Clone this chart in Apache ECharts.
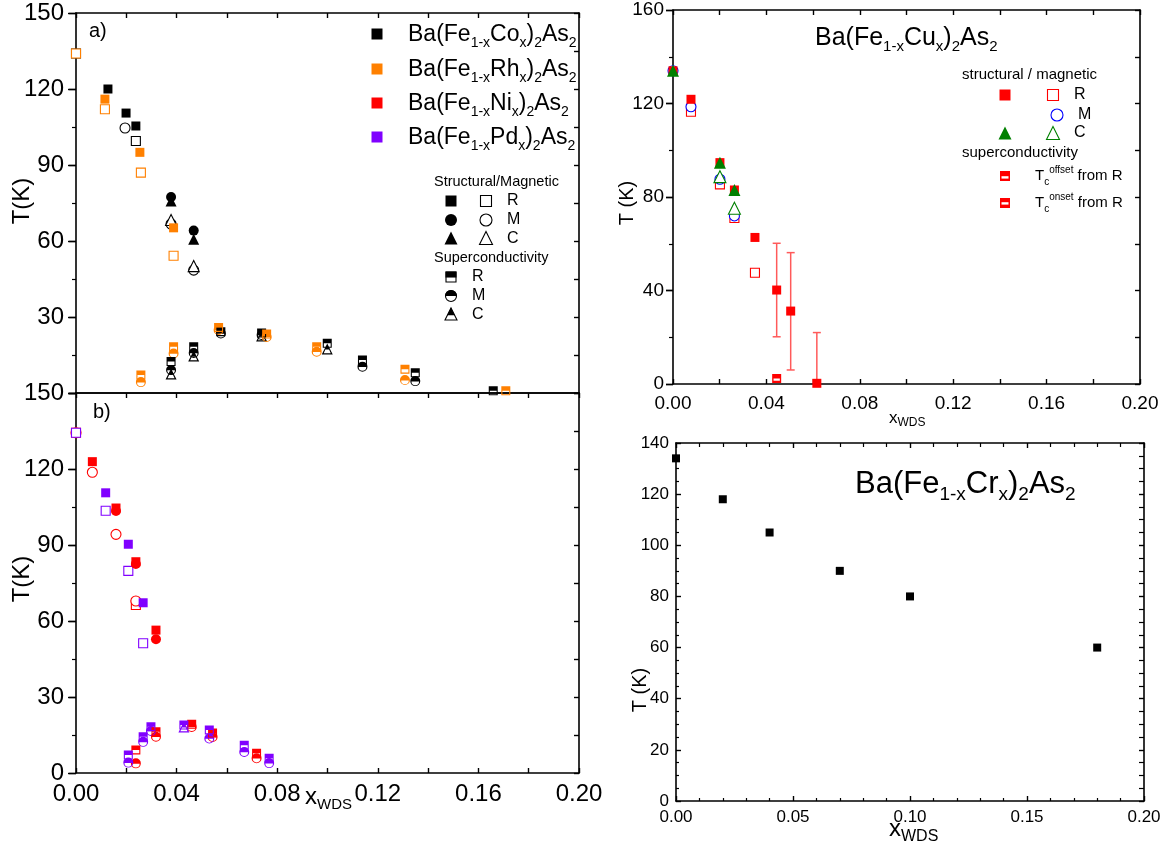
<!DOCTYPE html>
<html><head><meta charset="utf-8">
<script src="https://cdn.jsdelivr.net/npm/echarts@6/dist/echarts.min.js"></script>
<style>html,body{margin:0;padding:0;background:#fff}#c{width:1170px;height:856px}</style>
</head><body><div id="c"></div><script>
// ---------------- DATA ----------------
// Panel a) Ba(Fe1-xCox)2As2 (black), Ba(Fe1-xRhx)2As2 (orange)  [x_WDS, T(K)]
const coStructR      = [[0.0127,120],[0.0199,110.5],[0.0238,105.4]];
const coStructRopen  = [[0,134],[0.0238,99.5]];
const coMagM         = [[0.0378,77.4],[0.0468,64.1]];
const coMagMopen     = [[0.0195,104.6],[0.0378,66.7],[0.0468,48.5]];
const coC            = [[0.0378,75.8],[0.0468,60.7]];
const coCopen        = [[0.0378,68.3],[0.0468,50.1]];
const coScR          = [[0.0378,12.4],[0.0468,18.3],[0.0576,24.2],[0.0738,23.7],[0.0999,19.6],[0.1139,13],[0.1349,8],[0.1659,0.9]];
const coScM          = [[0.0378,9.1],[0.0468,15.8],[0.0576,23.5],[0.0738,22.9],[0.1139,10.4],[0.1349,4.7]];
const coScC          = [[0.0378,7.5],[0.0468,14.6],[0.0738,22.5],[0.0999,17.4]];
const rhStructR      = [[0.0115,116],[0.0254,95],[0.0388,65.2]];
const rhStructRopen  = [[0,134],[0.0115,112],[0.0258,87],[0.0388,54.2]];
const rhScR          = [[0.0258,7.1],[0.0388,18.3],[0.0567,25.9],[0.0758,23.3],[0.0957,18.3],[0.1308,9.4],[0.1709,0.9]];
const rhScM          = [[0.0258,4.3],[0.0388,15.6],[0.0567,24.9],[0.0758,22.1],[0.0957,16.3],[0.1308,5.1]];
// Panel b) Ba(Fe1-xNix)2As2 (red), Ba(Fe1-xPdx)2As2 (purple)
const niStructR      = [[0.0065,122.9],[0.0159,104.6],[0.0238,83.4],[0.0318,56.4]];
const niMagM         = [[0.0159,103.4],[0.0238,82.5],[0.0318,52.8]];
const niStructRopen  = [[0,134.3],[0.0238,66.3]];
const niMagMopen     = [[0,134.3],[0.0065,118.7],[0.0159,94.2],[0.0238,67.9]];
const niScR          = [[0.0238,9.1],[0.0318,16.3],[0.046,19.2],[0.0543,15.8],[0.0718,7.8]];
const niScM          = [[0.0238,3.8],[0.0318,14.3],[0.046,18.2],[0.0543,14.2],[0.0718,5.8]];
const pdStructR      = [[0.0118,110.6],[0.0208,90.3],[0.0267,67.2]];
const pdStructRopen  = [[0,134.3],[0.0118,103.5],[0.0208,79.8],[0.0267,51.2]];
const pdScR          = [[0.0208,7.1],[0.0267,14.3],[0.0298,18.3],[0.0429,18.9],[0.053,17],[0.0669,11],[0.0768,5.8]];
const pdScM          = [[0.0208,4.1],[0.0267,12.3],[0.0298,16.6],[0.053,13.6],[0.0669,8.3],[0.0768,3.9]];
const pdScC          = [[0.0429,18.2]];
// Ba(Fe1-xCux)2As2
const cuStructR      = [[0,134],[0.0077,121.8],[0.0201,94.7],[0.0263,83],[0.0351,62.7],[0.0444,40.2],[0.0504,31.2],[0.0616,0.3]];
const cuStructErr    = [[0.0444,20.2,60.2],[0.0504,6,56.2],[0.0616,-21.5,22]]; // [x, low, high]
const cuStructRopen  = [[0.0077,116.5],[0.0201,85.4],[0.0263,71],[0.0351,47.6]];
const cuMagMopen     = [[0,134],[0.0077,118.6],[0.0201,87.6],[0.0263,71.9]];
const cuCfilled      = [[0,134],[0.0201,94.7],[0.0263,83]];
const cuCopen        = [[0.0201,88.7],[0.0263,75.2]];
const cuTcOffset     = [[0.0444,2.4]];
// Ba(Fe1-xCrx)2As2
const crX = [0, 0.02, 0.04, 0.07, 0.10, 0.18];
const crT = [134, 118, 105, 90, 80, 60];
// tick settings
const xTicksAB = [0, 0.2, 0.02];
const yTicksAB = [0, 150, 30];
const yTicksCu = [0, 160, 40];
const yTicksCr = [0, 140, 20];

// ---------------- STYLE ----------------
const FONT = '"Liberation Sans", Arial, Helvetica, sans-serif';
const BLACK='#000000', ORANGE='#ff8000', RED='#ff0000', PURPLE='#8000ff', BLUE='#0000ff', GREEN='#008000', ERR='#ff5a5a';
const SQ_HALF_D = 'M0,0L10,0L10,10L0,10Z M1.2,5L1.2,8.8L8.8,8.8L8.8,5Z';
const CI_HALF_D = 'M0,5A5,5,0,1,1,10,5A5,5,0,1,1,0,5Z M1.2,5.3A3.8,3.8,0,0,0,8.8,5.3Z';
const TR_HALF_D = 'M5,0L10,10L0,10Z M3.3,5.6L1.8,8.9L8.2,8.9L6.7,5.6Z';
const SQ_OFF_D  = 'M0,0L10,0L10,10L0,10Z M1.5,5.2L1.5,7.6L8.5,7.6L8.5,5.2Z';
const SQH = 'path://'+SQ_HALF_D, CIH = 'path://'+CI_HALF_D, TRH = 'path://'+TR_HALF_D;

const AX = {a:[0,0], b:[2,2], cu:[4,4], cr:[6,6]};
function S(panel, data, symbol, color, size, open, z) {
  const [xi, yi] = AX[panel];
  return {type:'scatter', xAxisIndex:xi, yAxisIndex:yi, data, symbol, symbolSize:size, z: z||2,
    itemStyle: open ? {color:'#ffffff', borderColor:color, borderWidth:1.1, opacity:1}
                    : {color:color, borderWidth:0, opacity:1},
    emphasis:{disabled:true}, silent:true, animation:false};
}
const stepFmt = (step, dec) => v => (Math.abs(Math.round(v/step) - v/step) < 1e-6) ? v.toFixed(dec) : '';
const AL = {color:'#000', width:1.6};
function xa(grid, o) {
  return Object.assign({type:'value', gridIndex:grid, splitLine:{show:false},
    axisLine:{show:true, onZero:false, lineStyle:AL}}, o);
}
function ya(grid, o) {
  return Object.assign({type:'value', gridIndex:grid, splitLine:{show:false},
    axisLine:{show:true, onZero:false, lineStyle:AL}}, o);
}
const off = {show:false};
const lab = (size, margin, fmt) => ({show:true, fontSize:size, margin, color:'#000', fontFamily:FONT, formatter:fmt, showMinLabel:true, showMaxLabel:true});
const tin = (len) => ({show:true, inside:true, length:len, lineStyle:{color:'#000', width:1.4}});
const tout = (len) => ({show:true, inside:false, length:len, lineStyle:{color:'#000', width:1.4}});
const minor = (n, len) => ({show:true, splitNumber:n, length:len, lineStyle:{color:'#000', width:1.2}});

const xAxis = [
  xa(0,{min:xTicksAB[0],max:xTicksAB[1],interval:xTicksAB[2], axisTick:off, axisLabel:off}),
  xa(0,{position:'top',min:xTicksAB[0],max:xTicksAB[1],interval:xTicksAB[2], axisTick:tin(5), axisLabel:off}),
  xa(1,{min:xTicksAB[0],max:xTicksAB[1],interval:xTicksAB[2], axisTick:tin(5), axisLabel:lab(24,9,stepFmt(0.04,2))}),
  xa(1,{position:'top',min:xTicksAB[0],max:xTicksAB[1],interval:xTicksAB[2], axisTick:tin(5), axisLabel:off}),
  xa(2,{min:0,max:0.2,interval:0.02, axisTick:tin(5), axisLabel:lab(19,10,stepFmt(0.04,2))}),
  xa(2,{position:'top',min:0,max:0.2,interval:0.02, axisTick:tin(5), axisLabel:off}),
  xa(3,{min:0,max:0.2,interval:0.05, axisTick:tin(5), minorTick:minor(5,3), axisLabel:lab(17,8,v=>v.toFixed(2))}),
  xa(3,{position:'top',min:0,max:0.2,interval:0.05, axisTick:tin(5), minorTick:minor(5,4), axisLabel:off})
];
const yAxis = [
  ya(0,{min:yTicksAB[0],max:yTicksAB[1],interval:yTicksAB[2], axisTick:tout(8), axisLabel:lab(24,12,v=>v===0?'':String(v))}),
  ya(0,{position:'right',min:0,max:150,interval:15, axisTick:tin(5), axisLabel:off}),
  ya(1,{min:yTicksAB[0],max:yTicksAB[1],interval:yTicksAB[2], axisTick:tout(8), axisLabel:lab(24,12,v=>String(v))}),
  ya(1,{position:'right',min:0,max:150,interval:15, axisTick:tin(5), axisLabel:off}),
  ya(2,{min:yTicksCu[0],max:yTicksCu[1],interval:yTicksCu[2], axisTick:tout(7), axisLabel:lab(19,9,v=>String(v))}),
  ya(2,{position:'right',min:0,max:160,interval:20, axisTick:tin(5), axisLabel:off}),
  ya(3,{min:yTicksCr[0],max:yTicksCr[1],interval:yTicksCr[2], axisTick:tin(5), minorTick:minor(4,3), axisLabel:lab(17,7,v=>String(v))}),
  ya(3,{position:'right',min:0,max:140,interval:20, axisTick:tin(5), minorTick:minor(4,5), axisLabel:off}),
  ya(0,{min:0,max:150,interval:30, axisLine:off, axisTick:tin(7), minorTick:minor(2,4), axisLabel:off}),
  ya(1,{min:0,max:150,interval:30, axisLine:off, axisTick:tin(7), minorTick:minor(2,4), axisLabel:off}),
  ya(2,{min:0,max:160,interval:40, axisLine:off, axisTick:tin(7), minorTick:minor(2,4), axisLabel:off})
];

const series = [
  // panel a
  S('a', coStructRopen, 'rect', BLACK, 9, true),
  S('a', rhStructRopen, 'rect', ORANGE, 9, true),
  S('a', coMagMopen, 'circle', BLACK, 10, true),
  S('a', coCopen, 'triangle', BLACK, 11, true),
  S('a', coStructR, 'rect', BLACK, 9),
  S('a', rhStructR, 'rect', ORANGE, 9),
  S('a', coC, 'triangle', BLACK, 11),
  S('a', coMagM, 'circle', BLACK, 10),
  S('a', coScC, TRH, BLACK, 11),
  S('a', coScM, CIH, BLACK, 10),
  S('a', rhScM, CIH, ORANGE, 10),
  S('a', coScR, SQH, BLACK, 9),
  S('a', rhScR, SQH, ORANGE, 9),
  // panel b
  S('b', niStructRopen, 'rect', RED, 9, true),
  S('b', niMagMopen, 'circle', RED, 10, true),
  S('b', pdStructRopen, 'rect', PURPLE, 9, true),
  S('b', niMagM, 'circle', RED, 10),
  S('b', niStructR, 'rect', RED, 9),
  S('b', pdStructR, 'rect', PURPLE, 9),
  S('b', niScM, CIH, RED, 10),
  S('b', pdScM, CIH, PURPLE, 10),
  S('b', pdScC, TRH, PURPLE, 11),
  S('b', niScR, SQH, RED, 9),
  S('b', pdScR, SQH, PURPLE, 9),
  // Cu
  {type:'custom', xAxisIndex:4, yAxisIndex:4, data:cuStructErr, encode:{x:0, y:[1,2]}, z:1, silent:true, animation:false,
   renderItem(params, api) {
     const x = api.value(0), lo = api.value(1), hi = api.value(2);
     const pHi = api.coord([x, hi]), pLo = api.coord([x, Math.max(lo, 0)]);
     const st = {stroke:ERR, lineWidth:1.5};
     const ch = [
       {type:'line', shape:{x1:pHi[0], y1:pHi[1], x2:pLo[0], y2:pLo[1]}, style:st},
       {type:'line', shape:{x1:pHi[0]-4, y1:pHi[1], x2:pHi[0]+4, y2:pHi[1]}, style:st}
     ];
     if (lo >= 0) ch.push({type:'line', shape:{x1:pLo[0]-4, y1:pLo[1], x2:pLo[0]+4, y2:pLo[1]}, style:st});
     return {type:'group', children:ch};
   }},
  S('cu', cuStructRopen, 'rect', RED, 9, true),
  S('cu', cuMagMopen, 'circle', BLUE, 10, true),
  S('cu', cuCopen, 'triangle', GREEN, 12, true),
  S('cu', cuStructR, 'rect', RED, 9),
  S('cu', cuCfilled, 'triangle', GREEN, 12),
  S('cu', cuTcOffset, 'path://'+SQ_OFF_D, RED, 9),
  // Cr
  S('cr', crX.map((x,i)=>[x, crT[i]]), 'rect', BLACK, 8)
];

// ---------------- TEXT / LEGENDS ----------------
function richSet(main, sub, lh) {
  return {
    n:{fontSize:main, lineHeight:lh, fontFamily:FONT, fill:'#000', verticalAlign:'middle'},
    s:{fontSize:sub, lineHeight:sub, fontFamily:FONT, fill:'#000', verticalAlign:'bottom'},
    u:{fontSize:sub, lineHeight:sub, fontFamily:FONT, fill:'#000', verticalAlign:'top'}
  };
}
function T(x, y, text, size, richObj) {
  const st = {text, fill:'#000', fontSize:size, fontFamily:FONT, align:'left', verticalAlign:'middle', textAlign:'left', textVerticalAlign:'middle'};
  if (richObj) st.rich = richObj;
  return {type:'text', x, y, silent:true, z:50, style:st};
}
function TV(x, y, text, size) {
  return {type:'text', x, y, rotation:Math.PI/2, silent:true, z:50,
    style:{text, fill:'#000', fontSize:size, fontFamily:FONT, align:'center', verticalAlign:'middle', textAlign:'center', textVerticalAlign:'middle'}};
}
const chem = m => `{n|Ba(Fe}{s|1-x}{n|${m}}{s|x}{n|)}{s|2}{n|As}{s|2}`;
const sOpen = c => ({fill:'#fff', stroke:c, lineWidth:1.1});
function gRect(cx, cy, s, color, open) {
  return {type:'rect', silent:true, z:50, shape:{x:cx-s/2, y:cy-s/2, width:s, height:s},
    style: open ? sOpen(color) : {fill:color}};
}
function gCirc(cx, cy, s, color, open) {
  return {type:'circle', silent:true, z:50, shape:{cx, cy, r:s/2},
    style: open ? sOpen(color) : {fill:color}};
}
function gTri(cx, cy, s, color, open) {
  return {type:'polygon', silent:true, z:50, shape:{points:[[cx,cy-s/2],[cx+s/2,cy+s/2],[cx-s/2,cy+s/2]]},
    style: open ? sOpen(color) : {fill:color}};
}
function gHalfRect(cx, cy, s, color) {
  return [gRect(cx, cy, s-1, color, true),
    {type:'rect', silent:true, z:51, shape:{x:cx-s/2, y:cy-s/2, width:s, height:s*0.55}, style:{fill:color}}];
}
function gHalfCirc(cx, cy, s, color) {
  return [gCirc(cx, cy, s-1, color, true),
    {type:'sector', silent:true, z:51, shape:{cx, cy, r:s/2, r0:0, startAngle:Math.PI, endAngle:2*Math.PI, clockwise:true}, style:{fill:color}}];
}
function gHalfTri(cx, cy, s, color) {
  const top = cy - s/2, f = 0.6;
  return [gTri(cx, cy, s-1, color, true),
    {type:'polygon', silent:true, z:51, shape:{points:[[cx,top],[cx+s*f/2,top+s*f],[cx-s*f/2,top+s*f]]}, style:{fill:color}}];
}
function gBandRect(cx, cy, s, color, b0, b1) {
  return [gRect(cx, cy, s, color),
    {type:'rect', silent:true, z:51, shape:{x:cx-s/2+1.5, y:cy-s/2+s*b0, width:s-3, height:s*(b1-b0)}, style:{fill:'#fff'}}];
}

const legendA = [['Co',BLACK],['Rh',ORANGE],['Ni',RED],['Pd',PURPLE]];
const legendAY = [35, 70, 104, 138];
const graphics = [];
legendA.forEach(([m,c],i) => {
  graphics.push(gRect(377, legendAY[i]-1, 11, c));
  graphics.push(T(408, legendAY[i], chem(m), 23, richSet(23, 14, 31)));
});
graphics.push(T(89, 31, 'a)', 20));
graphics.push(T(93, 412, 'b)', 20));
// structural/magnetic key
graphics.push(T(434, 182, 'Structural/Magnetic', 14.5));
const smY = [201, 220, 239];
graphics.push(gRect(451, smY[0], 11, BLACK), gRect(486, smY[0], 11, BLACK, true), T(507, smY[0], 'R', 16));
graphics.push(gCirc(451, smY[1], 12, BLACK), gCirc(486, smY[1], 12, BLACK, true), T(507, smY[1], 'M', 16));
graphics.push(gTri(451, smY[2]-1, 13, BLACK), gTri(486, smY[2]-1, 13, BLACK, true), T(507, smY[2], 'C', 16));
graphics.push(T(434, 258, 'Superconductivity', 14.5));
const scY = [277, 296, 315];
graphics.push(...gHalfRect(451, scY[0], 11, BLACK), T(472, scY[0], 'R', 16));
graphics.push(...gHalfCirc(451, scY[1], 12, BLACK), T(472, scY[1], 'M', 16));
graphics.push(...gHalfTri(451, scY[2]-1, 13, BLACK), T(472, scY[2], 'C', 16));
// axis names
graphics.push(TV(22, 201, 'T(K)', 24));
graphics.push(TV(22, 579, 'T(K)', 24));
graphics.push(T(305, 797, '{n|x}{s|WDS}', 24, richSet(24, 15, 30)));
// Cu panel
graphics.push(T(815, 38, chem('Cu'), 25, richSet(25, 15, 33)));
graphics.push(T(962, 75, 'structural / magnetic', 15));
graphics.push(gRect(1005, 95, 11, RED), gRect(1053, 95, 11, RED, true), T(1074, 95, 'R', 16));
graphics.push(gCirc(1057, 115, 12, BLUE, true), T(1078, 115, 'M', 16));
graphics.push(gTri(1005, 133, 13, GREEN), gTri(1053, 133, 13, GREEN, true), T(1074, 133, 'C', 16));
graphics.push(T(962, 153, 'superconductivity', 15));
graphics.push(...gBandRect(1005, 176, 10, RED, 0.52, 0.76), T(1035, 176, '{n|T}{s|c}{u|offset}{n| from R}', 15, richSet(15, 10, 22)));
graphics.push(...gBandRect(1005, 203, 10, RED, 0.42, 0.66), T(1035, 203, '{n|T}{s|c}{u|onset}{n| from R}', 15, richSet(15, 10, 22)));
graphics.push(TV(627, 203, 'T (K)', 20));
graphics.push(T(889, 418, '{n|x}{s|WDS}', 17, richSet(17, 12, 22)));
// Cr panel
graphics.push(T(855, 484, chem('Cr'), 31, richSet(31, 19, 41)));
graphics.push(TV(640, 690, 'T (K)', 20));
graphics.push(T(889, 829, '{n|x}{s|WDS}', 24, richSet(24, 16, 31)));

const chart = echarts.init(document.getElementById('c'), null, {renderer:'canvas'});
chart.setOption({
  animation:false,
  backgroundColor:'#ffffff',
  textStyle:{fontFamily:FONT},
  grid:[
    {left:76, top:13, width:503, height:380, containLabel:false, outerBoundsMode:'none'},
    {left:76, top:393, width:503, height:380, containLabel:false, outerBoundsMode:'none'},
    {left:673, top:10, width:467, height:374, containLabel:false, outerBoundsMode:'none'},
    {left:676, top:443, width:468, height:358, containLabel:false, outerBoundsMode:'none'}
  ],
  xAxis, yAxis, series,
  graphic: graphics
});
</script></body></html>
